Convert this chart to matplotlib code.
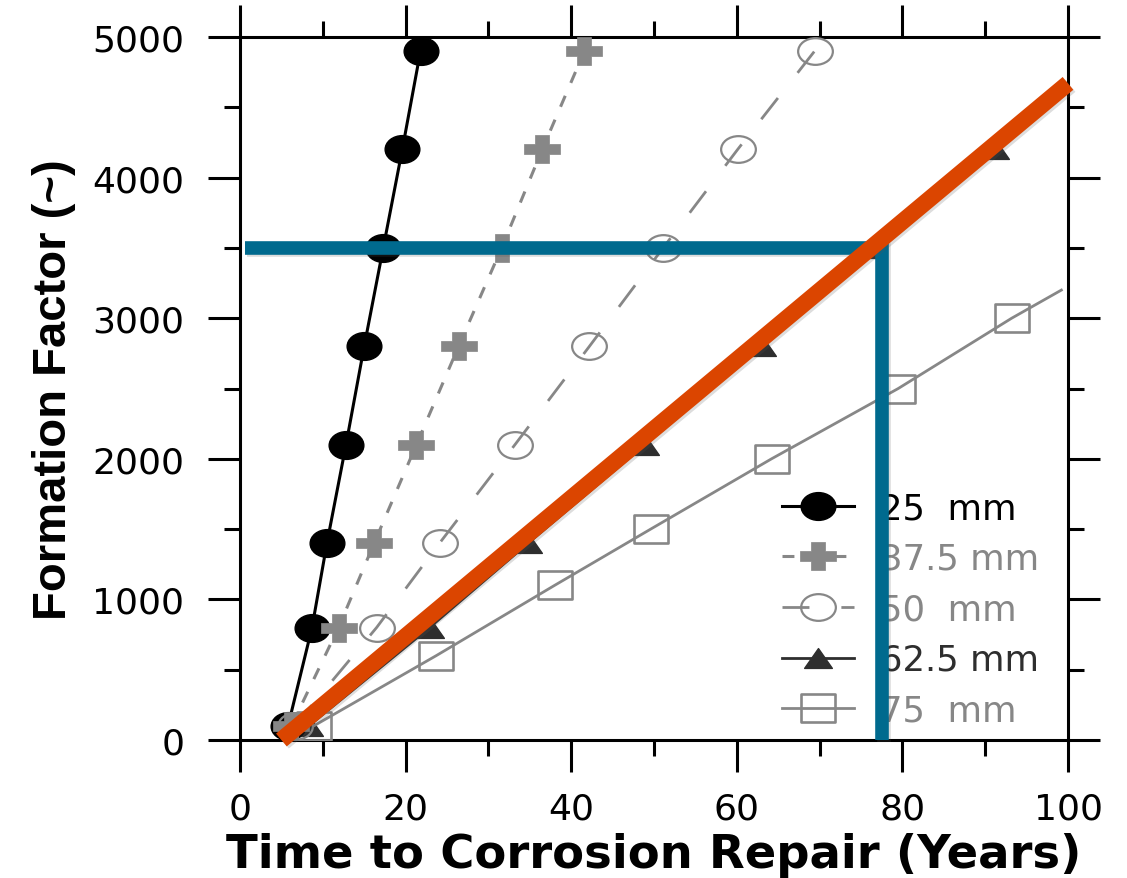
import matplotlib
matplotlib.use("Agg")
import matplotlib.pyplot as plt
import matplotlib.patheffects as pe
from matplotlib.path import Path

# ---- data -------------------------------------------------------------
formation_factor = [100, 800, 1400, 2100, 2800, 3500, 4200, 4900]
years_25mm = [5.8, 8.7, 10.5, 12.8, 15.0, 17.3, 19.6, 21.8]
years_37mm = [6.2, 11.9, 16.2, 21.3, 26.4, 31.6, 36.5, 41.6]
years_50mm = [6.6, 16.5, 24.1, 33.2, 42.2, 51.1, 60.1, 69.4]

ff_62mm = [100, 800, 1400, 2100, 2800, 3500, 4200]
years_62mm = [8.3, 22.9, 34.8, 48.9, 63.0, 76.3, 91.2]

ff_75mm = [100, 600, 1100, 1500, 2000, 2500, 3000, 3200]
years_75mm = [8.9, 23.7, 38.0, 49.6, 64.2, 79.5, 93.2, 99.2]

series_labels = ["25  mm", "37.5 mm", "50  mm", "62.5 mm", "75  mm"]

# design trend and the 3500 formation-factor read-off
trend_years = [5.0, 100.0]
trend_ff = [0, 4670]
target_ff = 3500
target_years = 77.5
guide_start_years = 0.6

x_ticks = [0, 20, 40, 60, 80, 100]
y_ticks = [0, 1000, 2000, 3000, 4000, 5000]

# ---- marker shapes ----------------------------------------------------
def ellipse(aspect):
    c = Path.unit_circle()
    v = c.vertices.copy()
    v[:, 0] *= aspect
    return Path(v, c.codes)

def rectangle(aspect):
    return Path([(-aspect, -1), (aspect, -1), (aspect, 1), (-aspect, 1), (-aspect, -1)],
                [Path.MOVETO, Path.LINETO, Path.LINETO, Path.LINETO, Path.CLOSEPOLY])

def plus_sign(hw, hh, vw, hth):
    pts = [(-vw, hh), (vw, hh), (vw, hth), (hw, hth), (hw, -hth), (vw, -hth),
           (vw, -hh), (-vw, -hh), (-vw, -hth), (-hw, -hth), (-hw, hth), (-vw, hth), (-vw, hh)]
    codes = [Path.MOVETO] + [Path.LINETO] * 11 + [Path.CLOSEPOLY]
    return Path(pts, codes)

def triangle(hw, hh):
    return Path([(0, hh), (-hw, -hh), (hw, -hh), (0, hh)],
                [Path.MOVETO, Path.LINETO, Path.LINETO, Path.CLOSEPOLY])

dot_marker = ellipse(1.25)
ring_marker = ellipse(1.3)
box_marker = rectangle(1.25)
plus_marker = plus_sign(18, 14, 6.5, 4.5)
tri_marker = triangle(14, 10)

GRAY = "#878787"
DARK = "#2e2e2e"
BLUE = "#006a8e"
ORANGE = "#db4500"

plt.rcParams["font.family"] = ["DejaVu Sans"]

fig = plt.figure(figsize=(11.27, 8.79), dpi=100)
ax = fig.add_axes([240 / 1127, 1 - 741 / 879, 828 / 1127, 703 / 879])

l25, = ax.plot(years_25mm, formation_factor, color="black", lw=2.2,
               marker=dot_marker, ms=25, mfc="black", mec="black", zorder=3,
               label=series_labels[0])
l37, = ax.plot(years_37mm, formation_factor, color=GRAY, lw=2.2,
               linestyle=(0, (3.9, 4.6)), marker=plus_marker, ms=26,
               mfc=GRAY, mec=GRAY, mew=0.5, zorder=3, label=series_labels[1])
l50, = ax.plot(years_50mm, formation_factor, color=GRAY, lw=2.0,
               linestyle=(0, (9.7, 11.5)), marker=ring_marker, ms=25,
               mfc="none", mec=GRAY, mew=1.6, zorder=3, label=series_labels[2])
l62, = ax.plot(years_62mm, ff_62mm, color=DARK, lw=2.0,
               marker=tri_marker, ms=20, mfc=DARK, mec=DARK, zorder=2,
               label=series_labels[3])
l75, = ax.plot(years_75mm, ff_75mm, color=GRAY, lw=2.0,
               marker=box_marker, ms=25, mfc="none", mec=GRAY, mew=1.9,
               markevery=list(range(len(ff_75mm) - 1)), zorder=3,
               label=series_labels[4])

shadow = [pe.SimpleLineShadow(offset=(1.5, -1.5), shadow_color="#555555", alpha=0.2),
          pe.Normal()]

ax.plot([guide_start_years, target_years, target_years], [target_ff, target_ff, 0],
        color=BLUE, lw=9.8, solid_joinstyle="miter", solid_capstyle="butt",
        zorder=6, path_effects=shadow, clip_on=False)
ax.plot(trend_years, trend_ff, color=ORANGE, lw=12, solid_capstyle="butt",
        zorder=7, path_effects=shadow, clip_on=False)

ax.set_xlim(0, 100)
ax.set_ylim(0, 5000)
ax.set_xticks(x_ticks)
ax.set_xticks([10, 30, 50, 70, 90], minor=True)
ax.set_yticks(y_ticks)
ax.set_yticks([500, 1500, 2500, 3500, 4500], minor=True)

for s in ax.spines.values():
    s.set_linewidth(2.2)
ax.tick_params(which="both", direction="out", top=True, right=True,
               width=2.2, color="black")
ax.tick_params(which="major", length=23, labelsize=26)
ax.tick_params(which="minor", length=11.5)
ax.tick_params(axis="y", which="major", pad=17)
ax.tick_params(axis="x", which="major", pad=14)

ax.set_xlabel("Time to Corrosion Repair (Years)", fontsize=33.5, fontweight="bold")
ax.xaxis.set_label_coords(0.5, (741 - 868) / 703)
ax.xaxis.label.set_va("baseline")

ax.set_ylabel("Formation Factor (~)", fontsize=34, fontweight="bold",
              family=["Liberation Sans", "DejaVu Sans"])
ax.yaxis.set_label_coords((54 - 240) / 828, 0.5)
ax.yaxis.label.set_va("center")

leg = ax.legend(handles=[l25, l37, l50, l62, l75], loc="upper left",
                bbox_to_anchor=((782 - 240) / 828, (741 - 492) / 703),
                frameon=False, fontsize=25.5, borderpad=0, borderaxespad=0,
                handlelength=2.03, handletextpad=0.73, labelspacing=0.47,
                numpoints=1)
leg.set_zorder(4)
for txt, col in zip(leg.get_texts(), ["black", GRAY, GRAY, DARK, GRAY]):
    txt.set_color(col)

fig.savefig("out.png", dpi=100, facecolor="white")
